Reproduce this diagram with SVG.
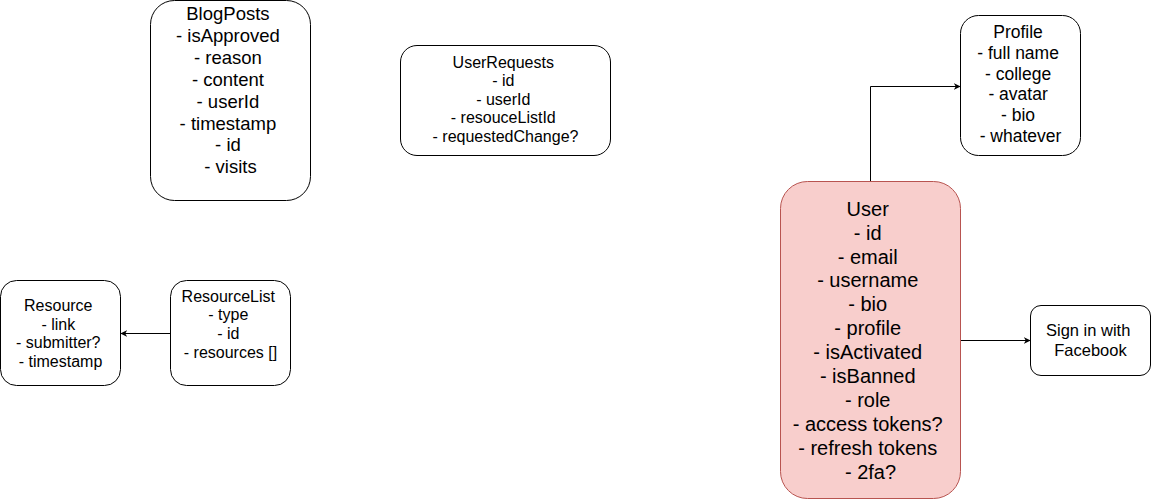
<svg xmlns="http://www.w3.org/2000/svg" width="1151" height="500" viewBox="0 0 1151 500">
<style>
.box{fill:#ffffff;stroke:#000000;stroke-width:1}
.user{fill:#f8cecc;stroke:#b85450;stroke-width:1}
text{font-family:"Liberation Sans",Arial,sans-serif;fill:#000000;text-anchor:middle}
.edge{fill:none;stroke:#000000;stroke-width:1}
</style>
<defs>
<marker id="arr" viewBox="0 0 10 10" refX="9" refY="5" markerWidth="7" markerHeight="7" orient="auto" markerUnits="userSpaceOnUse">
<path d="M0,0 L10,5 L0,10 L3,5 Z" fill="#000000" stroke="none"/>
</marker>
</defs>
<rect width="1151" height="500" fill="#ffffff"/>
<g id="connectors">
<path class="edge" d="M170.5,333.5 L121,333.5" marker-end="url(#arr)"/>
<path class="edge" d="M870.5,181.5 L870.5,86.5 L960,86.5" marker-end="url(#arr)"/>
<path class="edge" d="M960.5,340.5 L1030,340.5" marker-end="url(#arr)"/>
</g>
<g id="blogposts">
<rect class="box" x="150.5" y="0.5" width="160" height="200" rx="24" ry="24"/>
<text font-size="18.5">
<tspan x="230.5" y="20">BlogPosts</tspan>
<tspan x="230.5" y="42">- isApproved</tspan>
<tspan x="230.5" y="64">- reason</tspan>
<tspan x="230.5" y="85.5">- content</tspan>
<tspan x="230.5" y="107.5">- userId</tspan>
<tspan x="230.5" y="129.5">- timestamp</tspan>
<tspan x="230.5" y="151">- id</tspan>
<tspan x="230.5" y="173">- visits</tspan>
</text>
</g>
<g id="userrequests">
<rect class="box" x="400.5" y="45.5" width="210" height="110" rx="16.5" ry="16.5"/>
<text font-size="16">
<tspan x="505.5" y="67.5">UserRequests</tspan>
<tspan x="505.5" y="86">- id</tspan>
<tspan x="505.5" y="104.5">- userId</tspan>
<tspan x="505.5" y="123">- resouceListId</tspan>
<tspan x="505.5" y="141.5">- requestedChange?</tspan>
</text>
</g>
<g id="resource">
<rect class="box" x="0.5" y="280.5" width="120" height="105" rx="16" ry="16"/>
<text font-size="16">
<tspan x="60.5" y="311">Resource</tspan>
<tspan x="60.5" y="329.5">- link</tspan>
<tspan x="60.5" y="348">- submitter?</tspan>
<tspan x="60.5" y="366.5">- timestamp</tspan>
</text>
</g>
<g id="resourcelist">
<rect class="box" x="170.5" y="280.5" width="120" height="105" rx="16" ry="16"/>
<text font-size="16">
<tspan x="230.5" y="301.5">ResourceList</tspan>
<tspan x="230.5" y="320.2">- type</tspan>
<tspan x="230.5" y="338.9">- id</tspan>
<tspan x="230.5" y="357.6">- resources []</tspan>
</text>
</g>
<g id="profile">
<rect class="box" x="960.5" y="15.5" width="120" height="140" rx="18" ry="18"/>
<text font-size="17.5">
<tspan x="1020.5" y="38.3">Profile</tspan>
<tspan x="1020.5" y="59">- full name</tspan>
<tspan x="1020.5" y="79.7">- college</tspan>
<tspan x="1020.5" y="100.4">- avatar</tspan>
<tspan x="1020.5" y="121.1">- bio</tspan>
<tspan x="1020.5" y="141.8">- whatever</tspan>
</text>
</g>
<g id="user">
<rect class="user" x="780.5" y="181.5" width="180" height="317" rx="27" ry="27"/>
<text font-size="20">
<tspan x="870.5" y="215.7">User</tspan>
<tspan x="870.5" y="239.6">- id</tspan>
<tspan x="870.5" y="263.5">- email</tspan>
<tspan x="870.5" y="287.4">- username</tspan>
<tspan x="870.5" y="311.3">- bio</tspan>
<tspan x="870.5" y="335.2">- profile</tspan>
<tspan x="870.5" y="359.1">- isActivated</tspan>
<tspan x="870.5" y="383">- isBanned</tspan>
<tspan x="870.5" y="406.9">- role</tspan>
<tspan x="870.5" y="430.8">- access tokens?</tspan>
<tspan x="870.5" y="454.7">- refresh tokens</tspan>
<tspan x="870.5" y="478.6">- 2fa?</tspan>
</text>
</g>
<g id="facebook">
<rect class="box" x="1030.5" y="305.5" width="120" height="70" rx="10.5" ry="10.5"/>
<text font-size="16.5">
<tspan x="1090.5" y="335.7">Sign in with</tspan>
<tspan x="1090.5" y="355.7">Facebook</tspan>
</text>
</g>
</svg>
